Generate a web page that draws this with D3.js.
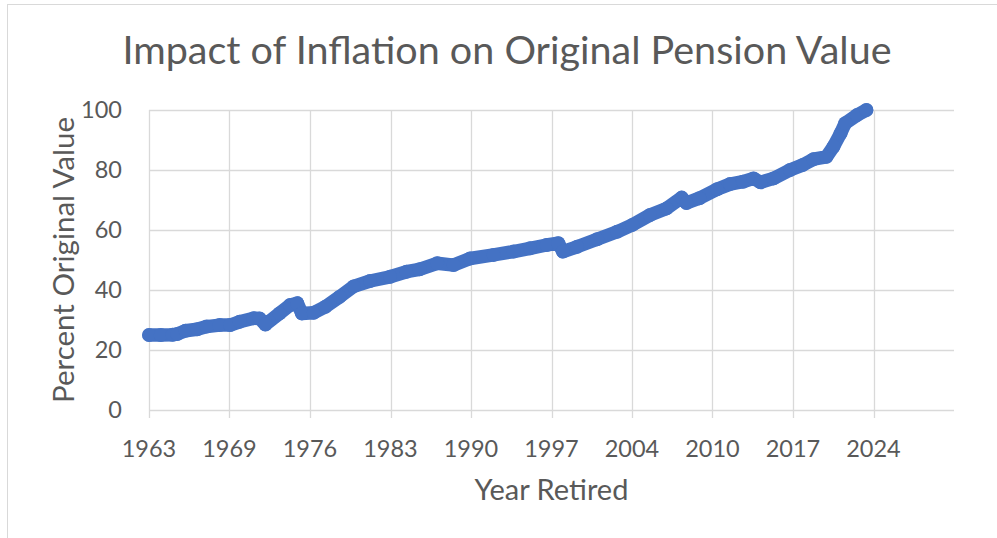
<!DOCTYPE html>
<html>
<head>
<meta charset="utf-8">
<script src="https://cdn.jsdelivr.net/npm/d3@7"></script>
<style>
  body { margin: 0; background: #fff; }
  svg { display: block; font-family: Lato, "Open Sans", sans-serif; }
</style>
</head>
<body>
<script>
// year retired (decimal years) and percent of original value
var years = [1963.0, 1964.0, 1965.0, 1965.4, 1966.1, 1967.1, 1967.9, 1969.0, 1969.9, 1970.7,
  1971.9, 1972.4, 1972.9, 1974.1, 1975.0, 1975.6, 1976.0, 1977.0, 1978.0, 1979.2,
  1980.4, 1981.8, 1983.5, 1984.9, 1986.0, 1987.5, 1988.9, 1990.3, 1992.3, 1994.0,
  1995.4, 1996.8, 1997.8, 1998.2, 1999.4, 2001.1, 2002.8, 2004.1, 2005.6, 2007.0,
  2008.3, 2008.7, 2009.8, 2011.3, 2012.4, 2013.5, 2014.4, 2015.0, 2016.1, 2017.5,
  2018.6, 2019.5, 2020.6, 2021.2, 2021.8, 2022.2, 2023.2, 2024.0];
var values = [25.0, 25.0, 25.1, 25.3, 26.4, 26.9, 27.8, 28.3, 28.3, 29.4,
  30.6, 30.5, 28.5, 32.2, 35.0, 35.6, 32.2, 32.4, 34.4, 37.7,
  41.2, 43.0, 44.4, 46.1, 46.9, 48.9, 48.3, 50.5, 51.7, 52.8,
  53.9, 55.0, 55.6, 52.8, 54.4, 56.9, 59.4, 61.7, 65.0, 67.2,
  70.8, 69.0, 70.6, 73.6, 75.3, 76.1, 77.2, 75.9, 77.2, 80.0,
  81.7, 83.6, 84.4, 87.8, 92.2, 95.6, 98.3, 100.0];

// excel date axis: major unit of 2500 days starting Jan 1963
var xTickLabels = ["1963", "1969", "1976", "1983", "1990", "1997", "2004", "2010", "2017", "2024"];
var yTicks = [0, 20, 40, 60, 80, 100];

var W = 997, H = 538;
var plotL = 149, plotR = 954, plotT = 110, plotB = 410;
var stepYears = 2500 / 365.25;

var svg = d3.select("body").append("svg")
  .attr("width", W)
  .attr("height", H);

// chart frame
svg.append("rect")
  .attr("x", 7.5).attr("y", 4.5)
  .attr("width", W + 20).attr("height", H + 20)
  .attr("fill", "none")
  .attr("stroke", "#d9d9d9");

var x = d3.scaleLinear()
  .domain([1963, 1963 + stepYears * 10])
  .range([plotL, plotR]);

var y = d3.scaleLinear()
  .domain([0, 100])
  .range([plotB, plotT]);

var tickVals = xTickLabels.map(function (d, i) { return 1963 + stepYears * i; });

// horizontal gridlines
svg.append("g")
  .selectAll("line")
  .data(yTicks)
  .enter().append("line")
  .attr("x1", plotL).attr("x2", plotR)
  .attr("y1", function (d) { return Math.round(y(d)) + 0.5; })
  .attr("y2", function (d) { return Math.round(y(d)) + 0.5; })
  .attr("stroke", "#d9d9d9")
  .attr("stroke-width", 1.3);

// vertical gridlines with tick marks below the axis
svg.append("g")
  .selectAll("line")
  .data(tickVals)
  .enter().append("line")
  .attr("x1", function (d) { return Math.round(x(d)) + 0.5; })
  .attr("x2", function (d) { return Math.round(x(d)) + 0.5; })
  .attr("y1", plotT).attr("y2", plotB + 8)
  .attr("stroke", "#d9d9d9")
  .attr("stroke-width", 1.3);

// y tick labels
svg.append("g")
  .selectAll("text")
  .data(yTicks)
  .enter().append("text")
  .attr("x", 122)
  .attr("y", function (d) { return y(d); })
  .attr("dy", "0.36em")
  .attr("text-anchor", "end")
  .attr("font-size", 23.5)
  .attr("fill", "#595959")
  .text(function (d) { return d; });

// x tick labels
svg.append("g")
  .selectAll("text")
  .data(xTickLabels)
  .enter().append("text")
  .attr("x", function (d, i) { return x(tickVals[i]); })
  .attr("y", 457)
  .attr("text-anchor", "middle")
  .attr("font-size", 23.5)
  .attr("fill", "#595959")
  .text(function (d) { return d; });

// series: thick line plus markers
var pts = years.map(function (d, i) { return { yr: d, v: values[i] }; });

var line = d3.line()
  .x(function (d) { return x(d.yr); })
  .y(function (d) { return y(d.v); });

svg.append("path")
  .attr("d", line(pts))
  .attr("fill", "none")
  .attr("stroke", "#4472c4")
  .attr("stroke-width", 13.5)
  .attr("stroke-linejoin", "round")
  .attr("stroke-linecap", "round");

svg.append("g")
  .selectAll("circle")
  .data(pts)
  .enter().append("circle")
  .attr("cx", function (d) { return x(d.yr); })
  .attr("cy", function (d) { return y(d.v); })
  .attr("r", 7)
  .attr("fill", "#4472c4");

// titles
svg.append("text")
  .attr("x", 507).attr("y", 64)
  .attr("text-anchor", "middle")
  .attr("font-size", 39.5)
  .attr("fill", "#595959")
  .text("Impact of Inflation on Original Pension Value");

svg.append("text")
  .attr("x", (plotL + plotR) / 2).attr("y", 500)
  .attr("text-anchor", "middle")
  .attr("font-size", 29)
  .attr("fill", "#595959")
  .text("Year Retired");

svg.append("text")
  .attr("transform", "translate(74," + (plotT + plotB) / 2 + ") rotate(-90)")
  .attr("text-anchor", "middle")
  .attr("font-size", 29.5)
  .attr("fill", "#595959")
  .text("Percent Original Value");
</script>
</body>
</html>
